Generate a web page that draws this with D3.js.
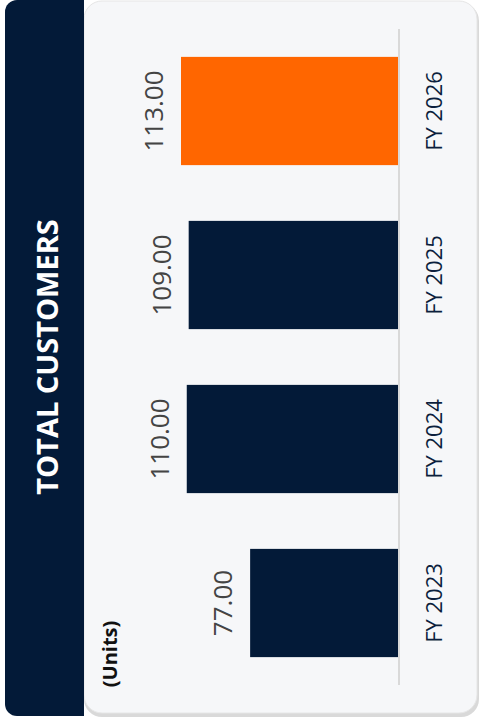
<!DOCTYPE html>
<html>
<head>
<meta charset="utf-8">
<script src="https://cdn.jsdelivr.net/npm/d3@7"></script>
<style>
  body { margin: 0; background: #fff; }
  svg { display: block; font-family: "Open Sans", sans-serif; }
</style>
</head>
<body>
<svg width="479" height="726"></svg>
<script>
// data
var years = ['FY 2023', 'FY 2024', 'FY 2025', 'FY 2026']
var customers = [77, 110, 109, 113]
var barColors = ['#031a38', '#031a38', '#031a38', '#ff6600']

var svg = d3.select('svg')

// card + shadow
svg.append('rect')
  .attr('x', 84).attr('y', 3).attr('width', 395).attr('height', 714)
  .attr('rx', 18).attr('fill', '#d9d9d9')
svg.append('rect')
  .attr('x', 84).attr('y', 1).attr('width', 393).attr('height', 712)
  .attr('rx', 18).attr('fill', '#f6f7f9')
  .attr('stroke', '#e6e6e6').attr('stroke-width', 1)

// dark side panel
svg.append('rect')
  .attr('x', 5).attr('y', 0).attr('width', 79).attr('height', 716)
  .attr('rx', 12).attr('fill', '#031a38')
svg.append('rect')
  .attr('x', 50).attr('y', 0).attr('width', 34).attr('height', 716)
  .attr('fill', '#031a38')

svg.append('text')
  .attr('transform', 'translate(58,357) rotate(-90)')
  .attr('text-anchor', 'middle')
  .attr('fill', '#fff')
  .attr('font-size', 29)
  .attr('font-weight', 700)
  .text('TOTAL CUSTOMERS')

svg.append('text')
  .attr('transform', 'translate(117,654) rotate(-90)')
  .attr('text-anchor', 'middle')
  .attr('fill', '#111')
  .attr('font-size', 20)
  .attr('font-weight', 700)
  .text('(Units)')

// scales (chart drawn rotated: categories along y, values along x to the left)
var y = d3.scaleBand()
  .domain(years.slice().reverse())
  .range([29, 685])
  .paddingInner(0.34)
  .paddingOuter(0.17)

var x = d3.scaleLinear()
  .domain([0, d3.max(customers)])
  .range([398, 181])

var rows = years.map(function (d, i) { return { year: d, value: customers[i], color: barColors[i] } })

svg.append('g')
  .selectAll('rect')
  .data(rows)
  .enter()
  .append('rect')
  .attr('x', function (d) { return x(d.value) })
  .attr('y', function (d) { return y(d.year) })
  .attr('width', function (d) { return x(0) - x(d.value) })
  .attr('height', y.bandwidth())
  .attr('fill', function (d) { return d.color })

// baseline
svg.append('line')
  .attr('x1', x(0) + 1).attr('x2', x(0) + 1)
  .attr('y1', 29).attr('y2', 685)
  .attr('stroke', '#d9d9d9').attr('stroke-width', 2)

// value labels
svg.append('g')
  .selectAll('text')
  .data(rows)
  .enter()
  .append('text')
  .attr('transform', function (d) {
    return 'translate(' + (x(d.value) - 18) + ',' + (y(d.year) + y.bandwidth() / 2) + ') rotate(-90)'
  })
  .attr('text-anchor', 'middle')
  .attr('fill', '#444')
  .attr('font-size', 26)
  .text(function (d) { return d.value.toFixed(2) })

// category labels
svg.append('g')
  .selectAll('text')
  .data(rows)
  .enter()
  .append('text')
  .attr('transform', function (d) {
    return 'translate(442,' + (y(d.year) + y.bandwidth() / 2) + ') rotate(-90)'
  })
  .attr('text-anchor', 'middle')
  .attr('fill', '#0c1f3d')
  .attr('font-size', 22)
  .text(function (d) { return d.year })
</script>
</body>
</html>
